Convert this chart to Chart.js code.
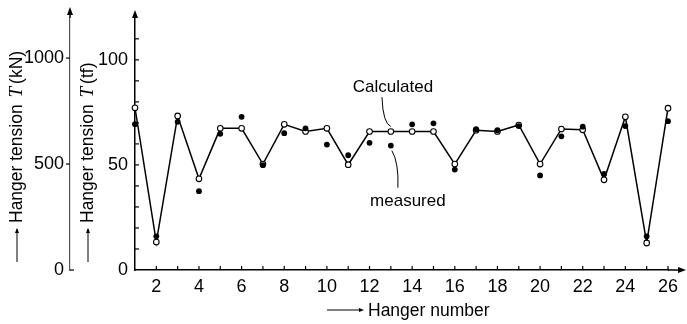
<!DOCTYPE html>
<html>
<head>
<meta charset="utf-8">
<script src="https://cdn.jsdelivr.net/npm/chart.js@4.4.1/dist/chart.umd.min.js"></script>
<style>
  html, body { margin: 0; padding: 0; background: #fff; }
  #chart { display: block; }
</style>
</head>
<body>
<canvas id="chart" width="687" height="324"></canvas>
<script>
// hanger numbers 1..26
var hangers = [1, 2, 3, 4, 5, 6, 7, 8, 9, 10, 11, 12, 13, 14, 15, 16, 17, 18, 19, 20, 21, 22, 23, 24, 25, 26];

// tension in tf
var calculated = [77.2, 13.3, 73.3, 43.4, 67.4, 67.4, 50.4, 69.3, 65.9, 67.4, 50.1, 65.9, 65.9,
                  65.9, 65.9, 50.4, 66.5, 65.9, 69.0, 50.4, 67.1, 66.7, 42.9, 72.9, 12.9, 77.0];
var measured = [69.4, 16.0, 70.5, 37.5, 64.8, 72.9, 49.9, 65.1, 67.4, 59.7, 54.6, 60.5, 59.2,
                69.3, 69.8, 47.8, 67.0, 66.5, 68.5, 45.0, 63.6, 68.2, 45.7, 68.5, 16.0, 70.8];

// tick labels
var xTickLabels = [2, 4, 6, 8, 10, 12, 14, 16, 18, 20, 22, 24, 26];
var tfTickLabels = [0, 50, 100];
var kNTickLabels = [0, 500, 1000];

// annotation labels (x = hanger, y = tf)
var noteCalc = { text: "Calculated", x: 13.1, y: 87 };
var noteMeas = { text: "measured", x: 13.8, y: 32.5 };

var SANS = "'Liberation Sans', Arial, sans-serif";

function pts(ys) {
  return hangers.map(function (h, i) { return { x: h, y: ys[i] }; });
}

function arrowHead(ctx, x, y, dir) {
  ctx.beginPath();
  if (dir === "up") {
    ctx.moveTo(x, y);
    ctx.lineTo(x - 3, y + 8);
    ctx.lineTo(x + 3, y + 8);
  } else {
    ctx.moveTo(x, y);
    ctx.lineTo(x - 8, y - 3);
    ctx.lineTo(x - 8, y + 3);
  }
  ctx.closePath();
  ctx.fill();
}

function smallArrowUp(ctx, x, y0, y1) {
  ctx.beginPath();
  ctx.moveTo(x, y0);
  ctx.lineTo(x, y1);
  ctx.stroke();
  ctx.beginPath();
  ctx.moveTo(x, y1 - 1);
  ctx.lineTo(x - 2, y1 + 4);
  ctx.lineTo(x + 2, y1 + 4);
  ctx.closePath();
  ctx.fill();
}

function drawRotatedTitle(ctx, cx, yStart, unit) {
  ctx.save();
  ctx.translate(cx, yStart);
  ctx.rotate(-Math.PI / 2);
  ctx.textBaseline = "middle";
  ctx.textAlign = "left";
  var x = 0;
  ctx.font = "17.5px " + SANS;
  ctx.fillText("Hanger tension ", x, 0);
  x += ctx.measureText("Hanger tension ").width + 2;
  ctx.font = "italic 19px 'Liberation Serif', 'Times New Roman', serif";
  ctx.fillText("T", x, 0);
  x += ctx.measureText("T").width + 3;
  ctx.font = "17.5px " + SANS;
  ctx.fillText(unit, x, 0);
  ctx.restore();
}

var decorPlugin = {
  id: "decor",
  afterDraw: function (chart) {
    var ctx = chart.ctx;
    var sx = chart.scales.x, sy = chart.scales.y, sk = chart.scales.yk;
    var area = chart.chartArea;
    ctx.save();
    ctx.strokeStyle = "#000";
    ctx.fillStyle = "#000";
    ctx.lineWidth = 1.2;

    // x minor ticks (inward, every hanger)
    for (var h = 2; h <= 26; h++) {
      var px = sx.getPixelForValue(h);
      ctx.beginPath();
      ctx.moveTo(px, area.bottom);
      ctx.lineTo(px, area.bottom - 4);
      ctx.stroke();
    }
    // tf ticks every 10 (inward)
    for (var v = 10; v <= 110; v += 10) {
      var py = sy.getPixelForValue(v);
      ctx.beginPath();
      ctx.moveTo(sy.right, py);
      ctx.lineTo(sy.right + 4, py);
      ctx.stroke();
    }
    // kN ticks
    kNTickLabels.forEach(function (k) {
      var py = sk.getPixelForValue(k);
      ctx.beginPath();
      if (k === 0) {
        ctx.moveTo(sk.right, py);
        ctx.lineTo(sk.right + 4, py);
      } else {
        ctx.moveTo(sk.right - 4, py);
        ctx.lineTo(sk.right, py);
      }
      ctx.stroke();
    });

    // axis extensions with arrowheads
    ctx.lineWidth = 1.5;
    ctx.beginPath();
    ctx.moveTo(sk.right, area.top);
    ctx.lineTo(sk.right, 14);
    ctx.stroke();
    arrowHead(ctx, sk.right, 7, "up");
    arrowHead(ctx, sy.right, 10, "up");
    ctx.beginPath();
    ctx.moveTo(area.right, area.bottom);
    ctx.lineTo(679, area.bottom);
    ctx.stroke();
    arrowHead(ctx, 686, area.bottom, "right");

    // axis titles
    ctx.lineWidth = 1;
    smallArrowUp(ctx, 17, 262, 229);
    smallArrowUp(ctx, 88, 262, 229);
    drawRotatedTitle(ctx, 17, 223, "(kN)");
    drawRotatedTitle(ctx, 88, 223, "(tf)");

    ctx.beginPath();
    ctx.moveTo(327, 310);
    ctx.lineTo(361, 310);
    ctx.stroke();
    ctx.beginPath();
    ctx.moveTo(364, 310);
    ctx.lineTo(359, 308);
    ctx.lineTo(359, 312);
    ctx.closePath();
    ctx.fill();
    ctx.font = "17.5px " + SANS;
    ctx.textAlign = "left";
    ctx.textBaseline = "middle";
    ctx.fillText("Hanger number", 368, 311);

    // annotations with leader curves
    ctx.textAlign = "center";
    ctx.font = "17px " + SANS;
    ctx.fillText(noteCalc.text, sx.getPixelForValue(noteCalc.x), sy.getPixelForValue(noteCalc.y));
    ctx.fillText(noteMeas.text, sx.getPixelForValue(noteMeas.x), sy.getPixelForValue(noteMeas.y));

    var c0x = sx.getPixelForValue(noteCalc.x) - 11, c0y = sy.getPixelForValue(noteCalc.y) + 10;
    var c1x = sx.getPixelForValue(13), c1y = sy.getPixelForValue(calculated[12]) - 5;
    ctx.lineWidth = 1;
    ctx.beginPath();
    ctx.moveTo(c0x, c0y);
    ctx.quadraticCurveTo(c0x + 1, c1y - 3, c1x, c1y);
    ctx.stroke();

    var m0x = sx.getPixelForValue(noteMeas.x) - 10, m0y = sy.getPixelForValue(noteMeas.y) - 14;
    var m1x = sx.getPixelForValue(13) + 1, m1y = sy.getPixelForValue(measured[12]) + 5;
    ctx.beginPath();
    ctx.moveTo(m0x, m0y);
    ctx.quadraticCurveTo(m0x + 1, m1y + 12, m1x, m1y);
    ctx.stroke();

    ctx.restore();
  }
};

var tickFont = { size: 18, family: SANS };

var ctx = document.getElementById("chart").getContext("2d");
var chart = new Chart(ctx, {
  type: "scatter",
  data: {
    datasets: [
      {
        label: "Calculated",
        data: pts(calculated),
        xAxisID: "x",
        yAxisID: "y",
        showLine: true,
        borderColor: "#000",
        borderWidth: 1.5,
        backgroundColor: "#fff",
        pointBackgroundColor: "#fff",
        pointBorderColor: "#000",
        pointBorderWidth: 1.1,
        pointRadius: 2.8,
        tension: 0,
        clip: false,
        order: 2
      },
      {
        label: "measured",
        data: pts(measured),
        xAxisID: "x",
        yAxisID: "y",
        showLine: false,
        pointBackgroundColor: "#000",
        pointBorderColor: "#000",
        pointBorderWidth: 0,
        pointRadius: 2.9,
        clip: false,
        order: 1
      }
    ]
  },
  options: {
    responsive: false,
    animation: false,
    devicePixelRatio: 1,
    layout: { padding: { top: 12, right: 19, bottom: 0, left: 0 } },
    plugins: {
      legend: { display: false },
      tooltip: { enabled: false }
    },
    scales: {
      x: {
        type: "linear",
        position: "bottom",
        min: 1,
        max: 26,
        afterBuildTicks: function (s) { s.ticks = xTickLabels.map(function (v) { return { value: v }; }); },
        afterFit: function (s) { s.height = 54; },
        grid: { display: false, drawTicks: false },
        border: { display: true, color: "#000", width: 1.5 },
        ticks: { color: "#000", font: tickFont, padding: 6, maxRotation: 0 }
      },
      yk: {
        type: "linear",
        position: "left",
        weight: 2,
        min: 0,
        max: 1190,
        afterBuildTicks: function (s) { s.ticks = kNTickLabels.map(function (v) { return { value: v }; }); },
        afterFit: function (s) { s.width = 70; },
        grid: { display: false, drawTicks: false },
        border: { display: true, color: "#555", width: 1.2 },
        ticks: { color: "#000", font: tickFont, padding: 6, callback: function (v) { return String(v); } }
      },
      y: {
        type: "linear",
        position: "left",
        weight: 1,
        min: 0,
        max: 120,
        afterBuildTicks: function (s) { s.ticks = tfTickLabels.map(function (v) { return { value: v }; }); },
        afterFit: function (s) { s.width = 65; },
        grid: { display: false, drawTicks: false },
        border: { display: true, color: "#000", width: 1.5 },
        ticks: { color: "#000", font: tickFont, padding: 7, callback: function (v) { return String(v); } }
      }
    }
  },
  plugins: [decorPlugin]
});
</script>
</body>
</html>
